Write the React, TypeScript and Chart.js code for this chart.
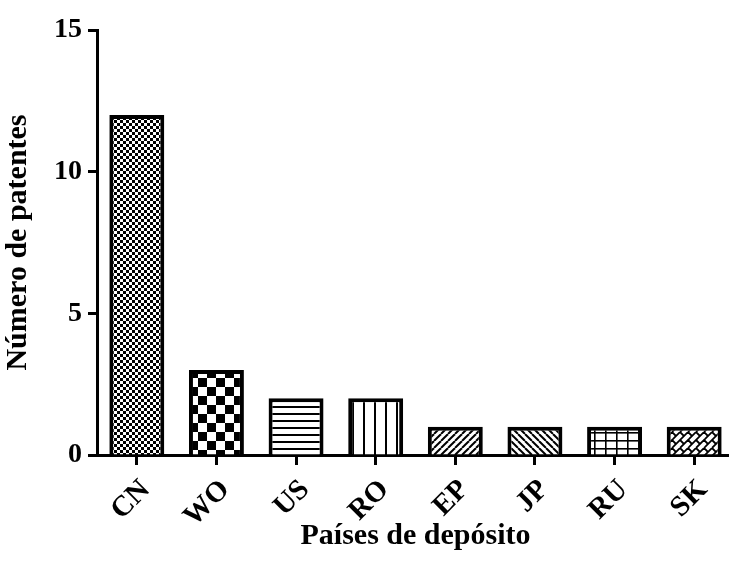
import React, { useEffect, useRef } from "react";
import { Chart, registerables } from "chart.js";

Chart.register(...registerables);

const countries = ["CN", "WO", "US", "RO", "EP", "JP", "RU", "SK"];
const patentCounts = [12, 3, 2, 2, 1, 1, 1, 1];
const yTicks = [0, 5, 10, 15];
const xTitle = "Países de depósito";
const yTitle = "Número de patentes";

type Painter = (g: CanvasRenderingContext2D, w: number, h: number) => void;

function makePattern(ctx: CanvasRenderingContext2D, w: number, h: number, paint: Painter) {
  const c = document.createElement("canvas");
  c.width = w;
  c.height = h;
  const g = c.getContext("2d")!;
  g.fillStyle = "#fff";
  g.fillRect(0, 0, w, h);
  g.fillStyle = "#000";
  g.strokeStyle = "#000";
  paint(g, w, h);
  return ctx.createPattern(c, "repeat")!;
}

function checker(cell: number): Painter {
  return (g) => {
    g.fillRect(0, 0, cell, cell);
    g.fillRect(cell, cell, cell, cell);
  };
}

const horizontalLines: Painter = (g, w) => g.fillRect(0, 0, w, 2);
const verticalLines: Painter = (g, _w, h) => g.fillRect(0, 0, 2, h);

function diagonal(forward: boolean): Painter {
  return (g, w, h) => {
    g.lineWidth = 2;
    for (let k = -1; k <= 1; k++) {
      g.beginPath();
      if (forward) {
        g.moveTo(k * w, h);
        g.lineTo(k * w + w, 0);
      } else {
        g.moveTo(k * w, 0);
        g.lineTo(k * w + w, h);
      }
      g.stroke();
    }
  };
}

const grid: Painter = (g, w, h) => {
  g.fillRect(0, 0, w, 1.6);
  g.fillRect(0, 0, 1.6, h);
};

// diagonal brick weave: "/" courses with staggered "\" joints
const weave: Painter = (g, w) => {
  const T = w;
  g.lineWidth = 1.8;
  const seg = (s0: number, s1: number, d: number) => {
    g.beginPath();
    g.moveTo((s0 + d) / 2, (s0 - d) / 2);
    g.lineTo((s1 + d) / 2, (s1 - d) / 2);
    g.stroke();
  };
  // courses: x + y = const, i.e. s fixed, d varies
  for (let k = -1; k <= 4; k++) {
    const s = (k * T) / 2;
    g.beginPath();
    g.moveTo(s + T, -T);
    g.lineTo(s - T, T);
    g.stroke();
  }
  // joints between courses, offset by half a brick in alternate courses
  for (let m = -1; m <= 2; m++) {
    for (let n = -2; n <= 2; n++) {
      seg(m * T, m * T + T / 2, n * T);
      seg(m * T + T / 2, m * T + T, n * T + T / 2);
    }
  }
};

export default function App() {
  const ref = useRef<HTMLCanvasElement | null>(null);

  useEffect(() => {
    const canvas = ref.current!;
    const ctx = canvas.getContext("2d")!;
    const fills = [
      makePattern(ctx, 6, 6, checker(3)),
      makePattern(ctx, 18, 18, checker(9)),
      makePattern(ctx, 7, 7, horizontalLines),
      makePattern(ctx, 11, 11, verticalLines),
      makePattern(ctx, 7, 7, diagonal(true)),
      makePattern(ctx, 7, 7, diagonal(false)),
      makePattern(ctx, 11, 8, grid),
      makePattern(ctx, 16, 16, weave),
    ];
    const font = { family: "'Liberation Serif', 'Times New Roman', serif", weight: "bold" as const };

    const chart = new Chart(ctx, {
      type: "bar",
      data: {
        labels: countries,
        datasets: [
          {
            data: patentCounts,
            backgroundColor: fills,
            borderColor: "#000",
            borderWidth: 4,
            barPercentage: 0.69,
            categoryPercentage: 1,
          },
        ],
      },
      options: {
        responsive: false,
        animation: false,
        devicePixelRatio: 1,
        layout: { padding: { top: 30, right: 26, left: 0, bottom: 0 } },
        plugins: { legend: { display: false }, tooltip: { enabled: false } },
        scales: {
          x: {
            offset: true,
            grid: {
              display: true,
              offset: false,
              drawOnChartArea: false,
              drawTicks: true,
              tickLength: 10,
              tickWidth: 3,
              color: "#000",
            },
            border: { display: true, width: 3, color: "#000" },
            ticks: {
              color: "#000",
              font: { ...font, size: 29 },
              minRotation: 45,
              maxRotation: 45,
              padding: 8,
              labelOffset: 9,
            },
            title: {
              display: true,
              text: xTitle,
              color: "#000",
              font: { ...font, size: 30 },
              padding: { top: 0, bottom: 16 },
            },
            afterFit: (s: any) => {
              s.height = 115;
            },
          },
          y: {
            min: 0,
            max: 15,
            afterBuildTicks: (s: any) => {
              s.ticks = yTicks.map((v) => ({ value: v }));
            },
            grid: {
              display: true,
              drawOnChartArea: false,
              drawTicks: true,
              tickLength: 9,
              tickWidth: 3,
              color: "#000",
            },
            border: { display: true, width: 3, color: "#000" },
            ticks: {
              color: "#000",
              font: { ...font, size: 28 },
              padding: 6,
            },
            title: {
              display: true,
              text: yTitle,
              color: "#000",
              font: { ...font, size: 30 },
              padding: { top: 0, bottom: 0 },
            },
            afterFit: (s: any) => {
              s.width = 97;
            },
          },
        },
      },
    });
    return () => chart.destroy();
  }, []);

  return (
    <div
      style={{
        position: "absolute",
        left: 0,
        top: 0,
        width: 729,
        height: 570,
        overflow: "hidden",
        background: "#fff",
      }}
    >
      <canvas ref={ref} width={760} height={570} style={{ display: "block" }} />
    </div>
  );
}
